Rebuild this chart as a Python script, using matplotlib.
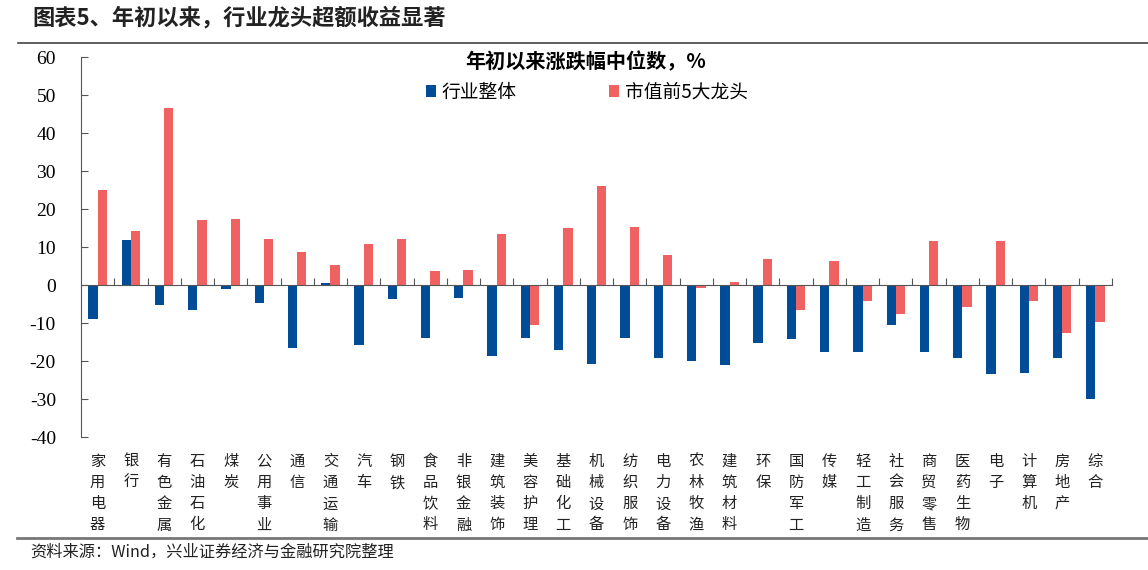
import numpy as np
import matplotlib
matplotlib.use("Agg")
import matplotlib.pyplot as plt
import matplotlib.transforms as mtransforms

plt.rcParams['font.family'] = ['Noto Sans CJK SC', 'DejaVu Sans']

categories = ["家用电器", "银行", "有色金属", "石油石化", "煤炭", "公用事业", "通信", "交通运输",
              "汽车", "钢铁", "食品饮料", "非银金融", "建筑装饰", "美容护理", "基础化工", "机械设备",
              "纺织服饰", "电力设备", "农林牧渔", "建筑材料", "环保", "国防军工", "传媒", "轻工制造",
              "社会服务", "商贸零售", "医药生物", "电子", "计算机", "房地产", "综合"]
industry = [-9.0, 11.8, -5.3, -6.6, -1.0, -4.8, -16.5, 0.5,
            -15.7, -3.8, -14.0, -3.4, -18.8, -14.0, -17.1, -20.7,
            -14.0, -19.2, -20.1, -21.1, -15.3, -14.2, -17.5, -17.6,
            -10.4, -17.5, -19.1, -23.4, -23.1, -19.3, -29.9]
top5 = [25.0, 14.3, 46.5, 17.1, 17.3, 12.0, 8.6, 5.3,
        10.7, 12.2, 3.8, 4.0, 13.3, -10.4, 15.0, 26.0,
        15.3, 7.9, -0.7, 0.8, 6.9, -6.5, 6.4, -4.2,
        -7.6, 11.5, -5.8, 11.5, -4.2, -12.7, -9.8]
yticks = [60, 50, 40, 30, 20, 10, 0, -10, -20, -30, -40]

blue = "#004C97"
red = "#F06262"
gray = "#555555"

fig = plt.figure(figsize=(11.48, 5.70), dpi=100)
ax = fig.add_axes([81 / 1148, 1 - 437 / 570, (1112 - 81) / 1148, (437 - 57) / 570])

x = np.arange(len(categories))
w = 0.28
ax.bar(x - w / 2, industry, width=w, color=blue, label="行业整体")
ax.bar(x + w / 2, top5, width=w, color=red, label="市值前5大龙头")

ax.set_xlim(-0.5, len(categories) - 0.5)
ax.set_ylim(-40, 60)
ax.set_yticks(yticks)
ax.set_yticklabels([str(v) for v in yticks], family="Liberation Serif", fontsize=14)
ax.tick_params(axis="y", direction="in", length=5, color=gray, pad=18)
ax.set_xticks(np.arange(0.5, len(categories), 1))
ax.set_xticklabels([])
ax.tick_params(axis="x", direction="in", length=5, color=gray)

for s in ["top", "right"]:
    ax.spines[s].set_visible(False)
ax.spines["left"].set_color(gray)
ax.spines["bottom"].set_color(gray)
ax.spines["bottom"].set_position(("data", 0))

# 竖排行业名称
trans = mtransforms.blended_transform_factory(ax.transData, fig.transFigure)
for i, name in enumerate(categories):
    ax.text(i, 1 - 453 / 570, "\n".join(name), transform=trans, ha="center", va="top",
            fontsize=11, linespacing=1.32, color="#222222")

fig.text(586 / 1148, 1 - 62 / 570, "年初以来涨跌幅中位数，%", ha="center", va="center",
         fontsize=14.5, fontweight="bold")
fig.legend(loc="center left", bbox_to_anchor=(409 / 1148, 1 - 92 / 570), ncol=2, frameon=False,
           fontsize=13.5, handlelength=0.55, handleheight=0.55, handletextpad=0.3,
           columnspacing=4.9)

fig.text(32 / 1148, 1 - 18 / 570, "图表5、年初以来，行业龙头超额收益显著", ha="left", va="center",
         fontsize=16, fontweight="bold", color="#222222")
fig.add_artist(plt.Line2D([18 / 1148, 1], [1 - 43 / 570] * 2, color="#444444", lw=1.2))
fig.add_artist(plt.Line2D([17 / 1148, 1], [1 - 538 / 570] * 2, color="#777777", lw=2))
fig.text(30 / 1148, 1 - 552 / 570, "资料来源：Wind，兴业证券经济与金融研究院整理", ha="left", va="center",
         fontsize=11.7, color="#222222")

fig.savefig("out.png", dpi=100)
